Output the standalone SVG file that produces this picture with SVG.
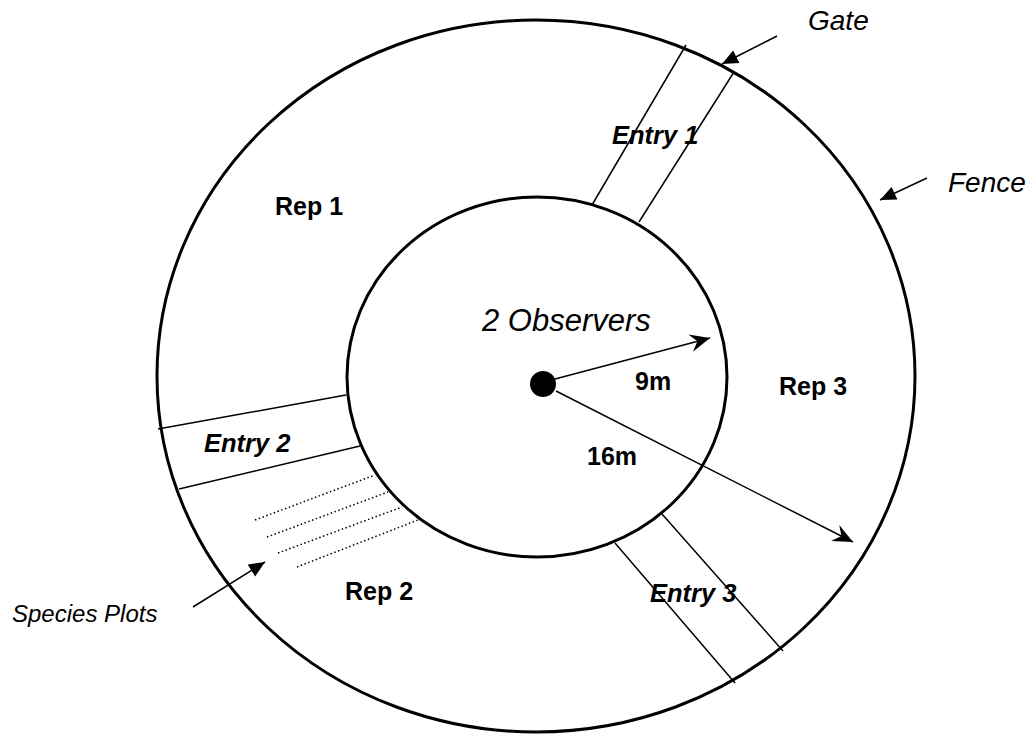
<svg xmlns="http://www.w3.org/2000/svg" width="1034" height="737" viewBox="0 0 1034 737">
<style>
.ring{fill:none;stroke:#000;stroke-width:3}
.ln{stroke:#000;stroke-width:1.5;fill:none}
.dot{stroke:#000;stroke-width:1.5;stroke-dasharray:1.5 2.5;fill:none}
.b{font-family:"Liberation Sans",Arial,sans-serif;font-weight:bold;font-size:25px;fill:#000}
.bi{font-family:"Liberation Sans",Arial,sans-serif;font-weight:bold;font-style:italic;font-size:25.5px;fill:#000}
.i{font-family:"Liberation Sans",Arial,sans-serif;font-style:italic;font-size:28px;fill:#000}
</style>
<defs>
<marker id="tri" markerUnits="userSpaceOnUse" markerWidth="20" markerHeight="20" viewBox="-18 -9 20 18" refX="0" refY="0" orient="auto">
<path d="M0,0 L-16,-7 L-16,7 Z" fill="#000"/>
</marker>
<marker id="barb" markerUnits="userSpaceOnUse" markerWidth="26" markerHeight="24" viewBox="-24 -11 26 22" refX="0" refY="0" orient="auto">
<path d="M0,0 L-20,-9 L-13,0 L-20,9 Z" fill="#000"/>
</marker>
</defs>
<g id="fence">
<ellipse class="ring" cx="536" cy="376" rx="379" ry="356"/>
</g>
<g id="inner-circle">
<ellipse class="ring" cx="537" cy="377" rx="190" ry="180"/>
</g>
<g id="entry1">
<line class="ln" x1="592" y1="205" x2="686" y2="45"/>
<line class="ln" x1="639" y1="222" x2="734" y2="72"/>
<text class="bi" x="612" y="144">Entry 1</text>
</g>
<g id="entry2">
<line class="ln" x1="158" y1="429" x2="346" y2="395"/>
<line class="ln" x1="179" y1="489" x2="360" y2="446"/>
<text class="bi" x="204" y="452">Entry 2</text>
</g>
<g id="entry3">
<line class="ln" x1="615" y1="543" x2="735" y2="683"/>
<line class="ln" x1="662" y1="514" x2="783" y2="651"/>
<text class="bi" x="650" y="602">Entry 3</text>
</g>
<g id="species-plots">
<line class="dot" x1="255" y1="520" x2="375" y2="475"/>
<line class="dot" x1="267" y1="537" x2="388" y2="492"/>
<line class="dot" x1="278" y1="553" x2="402" y2="507"/>
<line class="dot" x1="297" y1="567" x2="418" y2="520"/>
</g>
<g id="observers">
<circle cx="543" cy="384" r="13" fill="#000"/>
<text class="i" x="482" y="331" style="font-size:31px">2 Observers</text>
</g>
<g id="labels">
<text class="b" x="275" y="215">Rep 1</text>
<text class="b" x="345" y="600">Rep 2</text>
<text class="b" x="779" y="395">Rep 3</text>
<text class="b" x="635" y="390">9m</text>
<text class="b" x="587" y="465">16m</text>
<text class="i" x="808" y="30">Gate</text>
<text class="i" x="948" y="192">Fence</text>
<text class="i" x="12" y="622" style="font-size:24px">Species Plots</text>
</g>
<g id="connectors">
<line class="ln" x1="555" y1="379" x2="710" y2="338" marker-end="url(#barb)"/>
<line class="ln" x1="556" y1="391" x2="853" y2="542" marker-end="url(#barb)"/>
<line class="ln" x1="777" y1="36" x2="722" y2="64" marker-end="url(#tri)"/>
<line class="ln" x1="927" y1="178" x2="880" y2="200" marker-end="url(#tri)"/>
<line class="ln" x1="193" y1="607" x2="265" y2="562" marker-end="url(#tri)"/>
</g>
</svg>
